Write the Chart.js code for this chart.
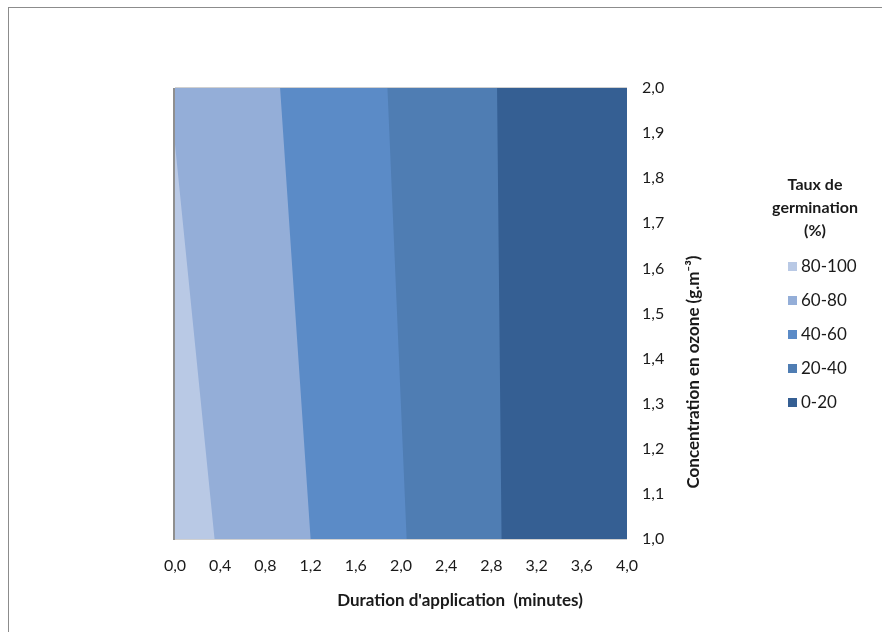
<!DOCTYPE html>
<html lang="fr">

<head>
  <meta charset="UTF-8">
  <title>Taux de germination</title>
  <script src="https://cdn.jsdelivr.net/npm/chart.js"></script>
  <style>
    body {
      margin: 0;
      background: #ffffff;
      overflow: hidden;
    }

    .frame {
      position: absolute;
      left: 8px;
      top: 7px;
      width: 900px;
      height: 650px;
      border: 1px solid #8c8c8c;
    }

    #chart {
      position: absolute;
      left: 0;
      top: 0;
    }
  </style>
</head>

<body>
  <div class="frame"></div>
  <canvas id="chart" width="882" height="632"></canvas>

  <script>
    // band names (legend) and colours
    const bands = ['80-100', '60-80', '40-60', '20-40', '0-20'];
    const bandColors = ['#b9c9e5', '#94aed8', '#5b8bc7', '#4f7db3', '#355f93'];

    // ozone concentration levels where the band limits were read (g.m-3)
    const concentration = [1.0, 2.0];

    // right-hand limit of each band (duration in minutes) at each concentration level
    const limit80to100 = [0.35, -0.05];
    const limit60to80 = [1.20, 0.93];
    const limit40to60 = [2.05, 1.88];
    const limit20to40 = [2.89, 2.85];
    const limit0to20 = [4.0, 4.0];

    const durationTicks = [0.0, 0.4, 0.8, 1.2, 1.6, 2.0, 2.4, 2.8, 3.2, 3.6, 4.0];
    const concentrationTicks = [1.0, 1.1, 1.2, 1.3, 1.4, 1.5, 1.6, 1.7, 1.8, 1.9, 2.0];

    const limits = [limit80to100, limit60to80, limit40to60, limit20to40, limit0to20];

    const FONT = 'Lato, "Open Sans", sans-serif';
    const comma = v => Number(v).toFixed(1).replace('.', ',');

    // each band is filled from its right-hand limit back to duration 0
    const datasets = bands.map((name, i) => ({
      label: name,
      data: concentration.map((c, j) => ({ x: limits[i][j], y: c })),
      backgroundColor: bandColors[i],
      borderColor: bandColors[i],
      borderWidth: 0,
      pointRadius: 0,
      pointHoverRadius: 0,
      tension: 0,
      fill: { value: 0 }
    }));

    // titles, legend and plot frame drawn by hand (Excel layout)
    const decorations = {
      id: 'decorations',
      afterDraw(chart) {
        const ctx = chart.ctx;
        const a = chart.chartArea;
        ctx.save();

        // plot frame
        ctx.strokeStyle = '#d0d0d0';
        ctx.lineWidth = 1;
        ctx.beginPath();
        ctx.moveTo(a.left, a.top - 0.5);
        ctx.lineTo(a.right, a.top - 0.5);
        ctx.moveTo(a.left, a.bottom + 0.5);
        ctx.lineTo(a.right, a.bottom + 0.5);
        ctx.stroke();
        ctx.strokeStyle = '#8f8f8f';
        ctx.lineWidth = 2;
        ctx.beginPath();
        ctx.moveTo(a.left - 1, a.top);
        ctx.lineTo(a.left - 1, a.bottom + 1);
        ctx.stroke();

        ctx.fillStyle = '#1a1a1a';
        ctx.textAlign = 'center';
        ctx.textBaseline = 'middle';

        // x title
        ctx.font = 'bold 17px ' + FONT;
        ctx.fillText("Duration d'application  (minutes)", 460, 601);

        // y title, reading bottom to top
        ctx.save();
        ctx.translate(694, 372);
        ctx.rotate(-Math.PI / 2);
        ctx.fillText('Concentration en ozone (g.m\u207B\u00B3)', 0, 0);
        ctx.restore();

        // legend
        ctx.font = 'bold 16px ' + FONT;
        ctx.fillText('Taux de', 815, 185);
        ctx.fillText('germination', 815, 208);
        ctx.fillText('(%)', 815, 231);

        ctx.font = '17px ' + FONT;
        ctx.textAlign = 'left';
        chart.data.datasets.forEach((ds, i) => {
          const y = 266 + i * 34;
          ctx.fillStyle = ds.backgroundColor;
          ctx.fillRect(788, y - 4, 9, 9);
          ctx.fillStyle = '#1a1a1a';
          ctx.fillText(ds.label, 801, y + 1);
        });

        ctx.restore();
      }
    };

    new Chart(document.getElementById('chart'), {
      type: 'line',
      data: { datasets: datasets },
      plugins: [decorations],
      options: {
        responsive: false,
        animation: false,
        indexAxis: 'y',
        events: [],
        layout: {
          padding: { left: 175, top: 88, right: 175, bottom: 13 }
        },
        plugins: {
          legend: { display: false },
          tooltip: { enabled: false },
          filler: { propagate: false }
        },
        scales: {
          x: {
            type: 'linear',
            position: 'bottom',
            min: 0,
            max: 4,
            afterFit: s => { s.height = 80; },
            afterBuildTicks: s => { s.ticks = durationTicks.map(v => ({ value: v })); },
            grid: { display: false },
            border: { display: false },
            ticks: {
              padding: 9,
              autoSkip: false,
              maxRotation: 0,
              color: '#1a1a1a',
              font: { family: FONT, size: 16 },
              callback: comma
            }
          },
          y: {
            type: 'linear',
            position: 'right',
            min: 1,
            max: 2,
            afterFit: s => { s.width = 80; },
            afterBuildTicks: s => { s.ticks = concentrationTicks.map(v => ({ value: v })); },
            grid: { display: false },
            border: { display: false },
            ticks: {
              padding: 7,
              autoSkip: false,
              color: '#1a1a1a',
              font: { family: FONT, size: 16 },
              callback: comma
            }
          }
        }
      }
    });
  </script>
</body>

</html>
